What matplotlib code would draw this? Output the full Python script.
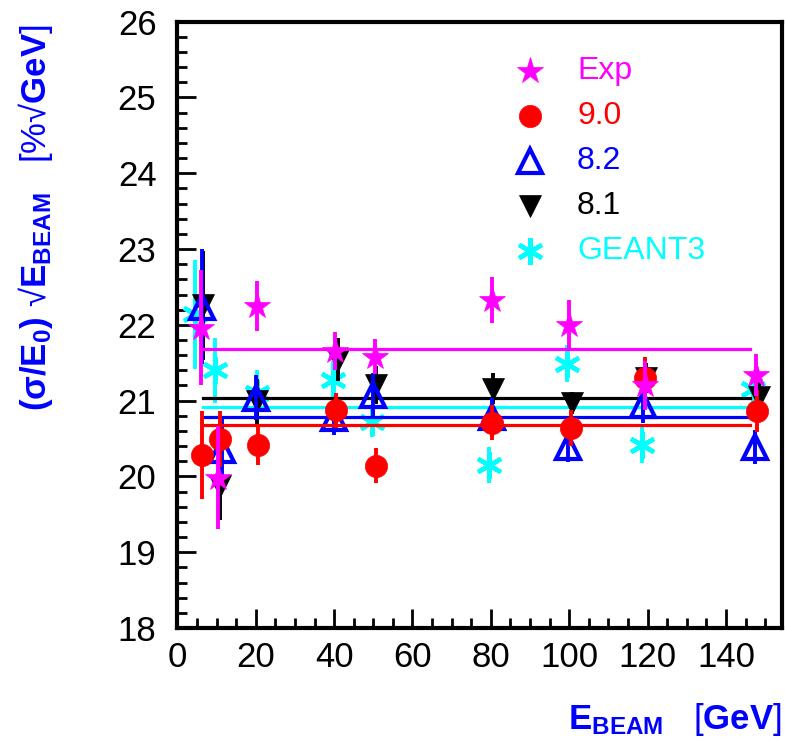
import numpy as np
import matplotlib
matplotlib.use("Agg")
import matplotlib.pyplot as plt
from matplotlib.ticker import MultipleLocator

plt.rcParams['font.family'] = ['Liberation Sans', 'DejaVu Sans']
plt.rcParams['mathtext.fontset'] = 'custom'
plt.rcParams['mathtext.rm'] = 'Liberation Sans'
plt.rcParams['mathtext.bf'] = 'Liberation Sans:bold'
plt.rcParams['mathtext.it'] = 'Liberation Sans:italic'

# resolution (sigma/E0)*sqrt(E) vs beam energy
exp_x = [6, 10.5, 20.2, 40.3, 50.5, 80.2, 99.9, 119.4, 147.6]
exp_y = [21.96, 19.98, 22.25, 21.66, 21.58, 22.33, 22.0, 21.2, 21.34]
exp_err = [0.76, 0.68, 0.33, 0.25, 0.23, 0.30, 0.33, 0.32, 0.28]

v90_x = [6.4, 10.9, 20.6, 40.5, 50.6, 80.4, 100.4, 119.3, 148.0]
v90_y = [20.28, 20.49, 20.42, 20.87, 20.14, 20.71, 20.64, 21.30, 20.86]
v90_err = [0.58, 0.37, 0.27, 0.23, 0.23, 0.23, 0.24, 0.28, 0.28]

v82_x = [6.2, 11.3, 20.1, 40.0, 50.0, 80.2, 99.7, 118.9, 147.4]
v82_y = [22.24, 20.35, 21.04, 20.77, 21.07, 20.79, 20.39, 20.94, 20.39]
v82_err = [0.76, 0.45, 0.30, 0.22, 0.30, 0.25, 0.20, 0.24, 0.22]

v81_x = [6.6, 10.8, 20.2, 40.9, 50.7, 80.6, 100.6, 119.6, 148.4]
v81_y = [22.26, 19.87, 20.99, 21.54, 21.21, 21.16, 20.97, 21.30, 21.05]
v81_err = [0.72, 0.45, 0.30, 0.28, 0.25, 0.20, 0.15, 0.20, 0.20]

g3_x = [4.5, 9.6, 20.2, 39.8, 49.6, 79.5, 99.5, 118.5, 147.0]
g3_y = [22.14, 21.40, 21.10, 21.27, 20.72, 20.15, 21.49, 20.42, 21.16]
g3_err = [0.72, 0.43, 0.30, 0.25, 0.20, 0.24, 0.25, 0.24, 0.20]

# fitted constants and fit range
fit_range = [6.5, 146.0]
fit_exp = 21.68
fit_v90 = 20.68
fit_v82 = 20.79
fit_v81 = 21.03
fit_g3 = 20.91

labels = ['Exp', '9.0', '8.2', '8.1', 'GEANT3']

fig = plt.figure(figsize=(7.85, 7.42), dpi=100)
ax = fig.add_axes([0.2259, 0.1536, 0.7699, 0.8172])

lw_err = 2.8
series = [
    # x, y, err, fit, color, marker style
    (g3_x, g3_y, g3_err, fit_g3, '#00ffff',
     dict(marker=(6, 2, 0), ms=19, mew=3.2, mfc='#00ffff', mec='#00ffff')),
    (v81_x, v81_y, v81_err, fit_v81, 'black',
     dict(marker='v', ms=16.5, mew=0.5, mfc='black', mec='black')),
    (v82_x, v82_y, v82_err, fit_v82, '#0000ff',
     dict(marker='^', ms=17, mew=3.0, mfc='none', mec='#0000ff')),
    (v90_x, v90_y, v90_err, fit_v90, '#ff0000',
     dict(marker='o', ms=16, mew=0.5, mfc='#ff0000', mec='#ff0000')),
    (exp_x, exp_y, exp_err, fit_exp, '#ff00ff',
     dict(marker='*', ms=20, mew=0.5, mfc='#ff00ff', mec='#ff00ff')),
]

z = 2
for x, y, e, fit, col, st in series:
    ax.plot(fit_range, [fit, fit], color=col, lw=2.3, zorder=z)
    ax.errorbar(x, y, yerr=e, fmt='none', ecolor=col, elinewidth=lw_err,
                capsize=0, zorder=z + 0.1)
    ax.plot(x, y, ls='none', zorder=z + 0.2, **st)
    z += 1

# legend drawn by hand, ROOT style
leg_styles = [series[4][5], series[3][5], series[2][5], series[1][5], series[0][5]]
leg_cols = ['#ff00ff', '#ff0000', '#0000ff', 'black', '#00ffff']
for i, (lab, st, col) in enumerate(zip(labels, leg_styles, leg_cols)):
    yy = 0.918 - i * 0.0742
    ax.plot([0.5836], [yy], transform=ax.transAxes, ls='none', clip_on=False, **st)
    ax.text(0.6613, yy, lab, transform=ax.transAxes, color=col, fontsize=23,
            ha='left', va='center')

ax.set_xlim(0, 154.2)
ax.set_ylim(18, 26)
ax.xaxis.set_major_locator(MultipleLocator(20))
ax.xaxis.set_minor_locator(MultipleLocator(5))
ax.yaxis.set_major_locator(MultipleLocator(1))
ax.yaxis.set_minor_locator(MultipleLocator(0.2))
ax.tick_params(which='both', direction='in', top=False, right=False,
               labelsize=25, width=2)
ax.tick_params(which='major', length=14)
ax.tick_params(which='minor', length=7)
ax.tick_params(axis='x', pad=9)
ax.tick_params(axis='y', pad=15)
for s in ax.spines.values():
    s.set_linewidth(3)

fig.text(0.996, 0.017, r"$\mathbf{E_{BEAM}}$   [$\mathbf{GeV}$]", color='#0000ff',
         fontsize=25, ha='right', va='baseline')
fig.text(0.045, 0.967, r"$\mathbf{(\sigma/E_0)}$ √$\mathbf{E_{BEAM}}$   [%√$\mathbf{GeV}$]",
         color='#0000ff', fontsize=25, rotation=90, ha='center', va='top')

fig.savefig('out.png', dpi=100)
